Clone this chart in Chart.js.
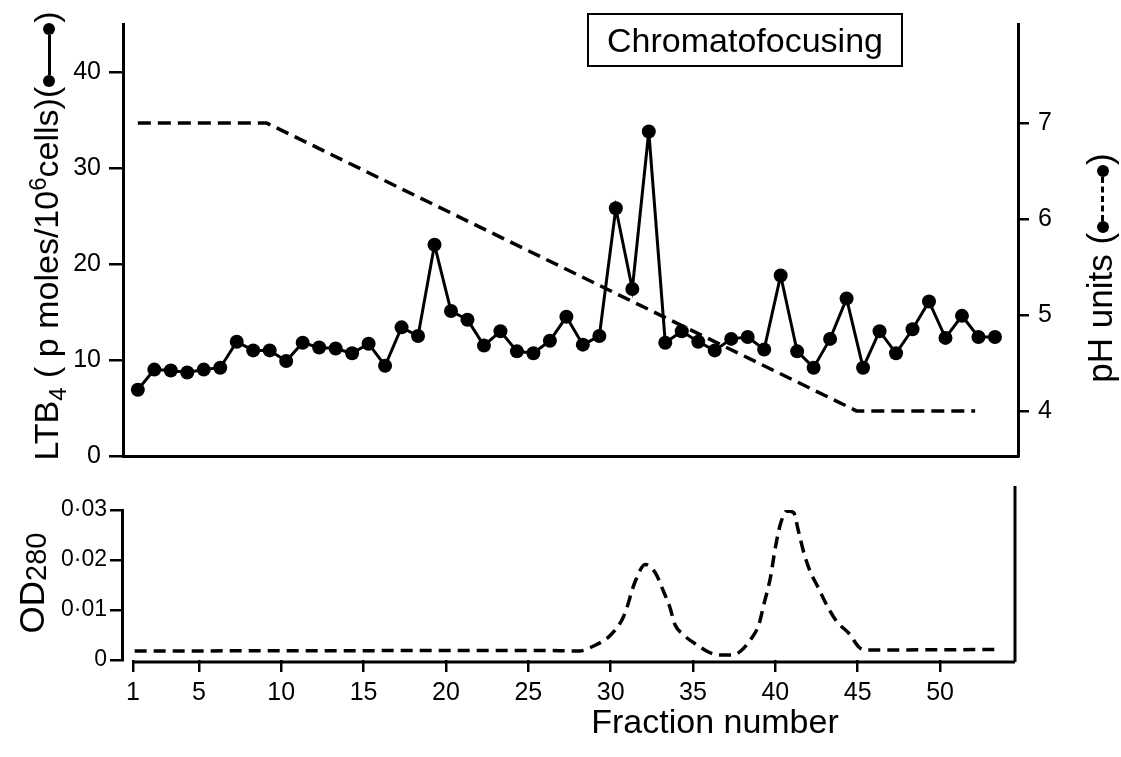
<!DOCTYPE html>
<html>
<head>
<meta charset="utf-8">
<script src="https://cdn.jsdelivr.net/npm/chart.js@4.4.1/dist/chart.umd.min.js"></script>
<style>
  body { margin: 0; background: #fff; width: 1121px; height: 757px; overflow: hidden; position: relative; font-family: 'Liberation Sans', Arial, sans-serif; color: #000; }
  .abs { position: absolute; }
  .rot { position: absolute; transform: rotate(-90deg); text-align: center; white-space: nowrap; }
  .dot { display: inline-block; width: 12px; height: 12px; border-radius: 50%; background: #000; vertical-align: middle; }
  .ln { display: inline-block; width: 40px; height: 0; border-top: 3px solid #000; vertical-align: middle; }
  .dl { display: inline-block; width: 44px; height: 0; border-top: 3px dashed #000; vertical-align: middle; }
  #titleBox { left: 587px; top: 13px; width: 312px; height: 50px; border: 2px solid #000; font-size: 34px; line-height: 50px; text-align: center; }
</style>
</head>
<body>
<div class="abs" style="left:0;top:0;width:1121px;height:480px;"><canvas id="topChart" width="1121" height="480"></canvas></div>
<div class="abs" style="left:0;top:470px;width:1121px;height:287px;"><canvas id="bottomChart" width="1121" height="287"></canvas></div>

<div id="titleBox" class="abs">Chromatofocusing</div>
<div class="rot" style="left:-202px;top:214px;width:480px;height:44px;line-height:44px;font-size:34px;">LTB<sub style="font-size:24px">4</sub> ( p moles/10<sup style="font-size:24px">6</sup>cells)(<span class="dot"></span><span class="ln"></span><span class="dot"></span>)</div>
<div class="rot" style="left:950px;top:246px;width:300px;height:44px;line-height:44px;font-size:35px;">pH units (<span class="dot"></span><span class="dl"></span><span class="dot"></span>)</div>
<div class="rot" style="left:-43px;top:562px;width:150px;height:42px;line-height:42px;font-size:35px;">OD<sub style="font-size:29px;vertical-align:-2px">280</sub></div>
<div class="abs" style="left:560px;top:702px;width:310px;text-align:center;font-size:34px;">Fraction number</div>

<script>
const fractions = [1, 2, 3, 4, 5, 6, 7, 8, 9, 10, 11, 12, 13, 14, 15, 16, 17, 18, 19, 20,
  21, 22, 23, 24, 25, 26, 27, 28, 29, 30, 31, 32, 33, 34, 35, 36, 37, 38, 39, 40,
  41, 42, 43, 44, 45, 46, 47, 48, 49, 50, 51, 52, 53];
const ltb4 = [6.9, 9.0, 8.9, 8.7, 9.0, 9.2, 11.9, 11.0, 11.0, 9.9,
  11.8, 11.3, 11.2, 10.7, 11.7, 9.4, 13.4, 12.5, 22.0, 15.1,
  14.2, 11.5, 13.0, 10.9, 10.7, 12.0, 14.5, 11.6, 12.5, 25.8,
  17.4, 33.8, 11.8, 13.0, 11.9, 11.0, 12.2, 12.4, 11.1, 18.8,
  10.9, 9.2, 12.2, 16.4, 9.2, 13.0, 10.7, 13.2, 16.1, 12.3,
  14.6, 12.4, 12.4];

const phFractions = [1, 8.8, 44.6, 51.8];
const phValues = [7.0, 7.0, 4.0, 4.0];

const odFractions = [1.1, 25.7, 28.1, 28.9, 30.0, 30.8, 31.5, 32.1, 32.7, 33.2, 33.6, 33.9, 34.4, 35.2,
  36.0, 36.6, 37.4, 37.9, 38.5, 39.0, 39.3, 39.7, 40.0, 40.3, 40.7, 41.1, 41.4, 41.7, 42.1,
  42.6, 43.1, 43.7, 44.5, 45.1, 45.6, 53.3];
const odValues = [0.0018, 0.0019, 0.0018, 0.0027, 0.0050, 0.0088, 0.0158, 0.0191, 0.0175, 0.0138, 0.0105, 0.0071, 0.0051, 0.0031,
  0.0015, 0.0010, 0.0010, 0.0018, 0.0041, 0.0071, 0.0111, 0.0165, 0.0225, 0.0271, 0.0298, 0.0295, 0.0258, 0.0218, 0.0178,
  0.0145, 0.0111, 0.0078, 0.0052, 0.0025, 0.0020, 0.0021];

const ltbTicks = [0, 10, 20, 30, 40];
const phTicks = [4, 5, 6, 7];
const odTicks = [0, 0.01, 0.02, 0.03];
const fractionTicks = [1, 5, 10, 15, 20, 25, 30, 35, 40, 45, 50];

const tickFamily = "'Liberation Sans', sans-serif";

function setTicks(values) {
    return scale => { scale.ticks = values.map(v => ({ value: v })); };
}

const topChart = new Chart(document.getElementById('topChart').getContext('2d'), {
    type: 'line',
    data: {
        datasets: [{
            label: 'LTB4',
            data: fractions.map((f, i) => ({ x: f, y: ltb4[i] })),
            yAxisID: 'y',
            borderColor: '#000',
            backgroundColor: '#000',
            borderWidth: 3,
            pointRadius: 7,
            pointBorderWidth: 0,
            tension: 0
        }, {
            label: 'pH',
            data: phFractions.map((f, i) => ({ x: f, y: phValues[i] })),
            yAxisID: 'y2',
            borderColor: '#000',
            borderWidth: 3.5,
            borderDash: [13, 7],
            pointRadius: 0,
            tension: 0
        }]
    },
    options: {
        responsive: false,
        animation: false,
        plugins: { legend: { display: false }, tooltip: { enabled: false } },
        layout: { padding: { top: 12, left: 0, right: 0, bottom: 0 } },
        scales: {
            x: {
                type: 'linear', min: 0.1, max: 54.4,
                grid: { display: false },
                border: { color: '#000', width: 3 },
                ticks: { display: false },
                afterFit: s => { s.height = 20; }
            },
            y: {
                position: 'left', min: 0, max: 45,
                afterBuildTicks: setTicks(ltbTicks),
                grid: { drawOnChartArea: false, tickLength: 14, color: '#000', lineWidth: 2.5 },
                border: { color: '#000', width: 3 },
                ticks: { color: '#000', font: { family: tickFamily, size: 25 }, padding: 8 },
                afterFit: s => { s.width = 123; }
            },
            y2: {
                position: 'right', min: 3.53, max: 8.03,
                afterBuildTicks: setTicks(phTicks),
                grid: { drawOnChartArea: false, tickLength: 11, color: '#000', lineWidth: 2.5 },
                border: { color: '#000', width: 3 },
                ticks: { color: '#000', font: { family: tickFamily, size: 25 }, padding: 9 },
                afterFit: s => { s.width = 103; }
            }
        }
    }
});

// custom axis lines for the lower panel
const lowerAxes = {
    id: 'lowerAxes',
    afterDraw(chart) {
        const { ctx, chartArea, scales } = chart;
        ctx.save();
        ctx.strokeStyle = '#000';
        ctx.lineWidth = 3;
        ctx.beginPath();
        ctx.moveTo(scales.x.getPixelForValue(1), chartArea.bottom + 2);
        ctx.lineTo(chartArea.right, chartArea.bottom + 2);
        ctx.moveTo(chartArea.right, chartArea.bottom + 2);
        ctx.lineTo(chartArea.right, chartArea.top - 24);
        ctx.stroke();
        ctx.restore();
    }
};

const bottomChart = new Chart(document.getElementById('bottomChart').getContext('2d'), {
    type: 'line',
    data: {
        datasets: [{
            label: 'OD280',
            data: odFractions.map((f, i) => ({ x: f, y: odValues[i] })),
            borderColor: '#000',
            borderWidth: 3.5,
            borderDash: [12, 7],
            pointRadius: 0,
            cubicInterpolationMode: 'monotone'
        }]
    },
    options: {
        responsive: false,
        animation: false,
        plugins: { legend: { display: false }, tooltip: { enabled: false } },
        layout: { padding: { top: 40, left: 0, right: 106, bottom: 0 } },
        scales: {
            x: {
                type: 'linear', min: 0.33, max: 54.55,
                afterBuildTicks: setTicks(fractionTicks),
                grid: { drawOnChartArea: false, tickLength: 12, color: '#000', lineWidth: 2.5 },
                border: { display: false },
                ticks: { color: '#000', font: { family: tickFamily, size: 25 }, padding: 6, maxRotation: 0, autoSkip: false },
                afterFit: s => { s.height = 97; }
            },
            y: {
                position: 'left', min: 0, max: 0.03,
                afterBuildTicks: setTicks(odTicks),
                grid: { drawOnChartArea: false, tickLength: 12, color: '#000', lineWidth: 2.5 },
                border: { color: '#000', width: 3 },
                ticks: {
                    color: '#000', font: { family: tickFamily, size: 23 }, padding: 3,
                    callback: v => v === 0 ? '0' : v.toFixed(2).replace('.', '·')
                },
                afterFit: s => { s.width = 122; }
            }
        }
    },
    plugins: [lowerAxes]
});
</script>
</body>
</html>
